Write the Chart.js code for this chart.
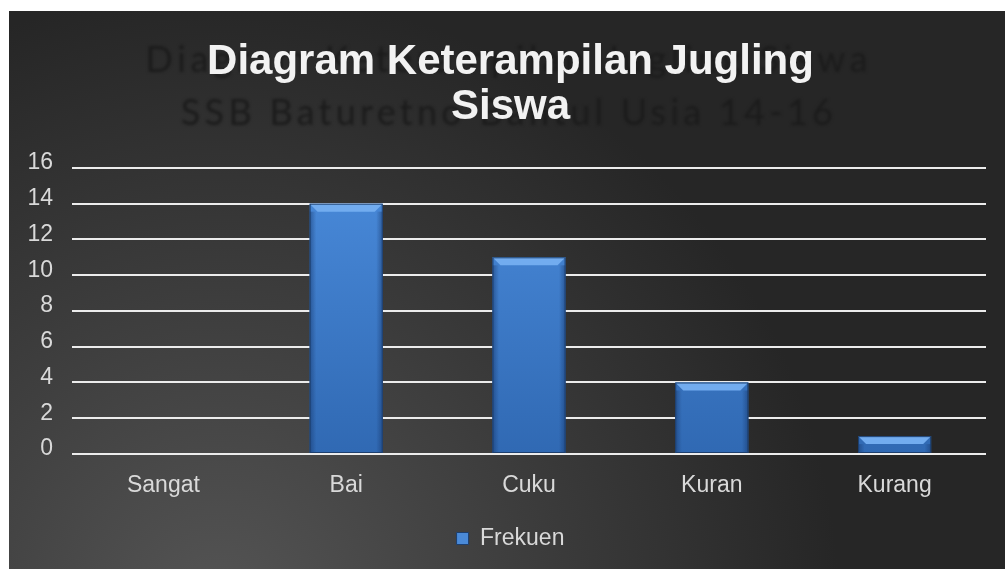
<!DOCTYPE html>
<html>
<head>
<meta charset="utf-8">
<script src="https://cdn.jsdelivr.net/npm/chart.js@4.4.1/dist/chart.umd.min.js"></script>
<style>
  html, body { margin: 0; padding: 0; background: #fff; }
  #wrap { position: absolute; left: 9px; top: 11px; width: 996px; height: 558px; }
</style>
</head>
<body>
<div id="wrap"><canvas id="chart"></canvas></div>
<script>
const categories = ['Sangat', 'Bai', 'Cuku', 'Kuran', 'Kurang'];
const frekuensi = [0, 14, 11, 4, 1];
const seriesName = 'Frekuen';
const titleLines = ['Diagram Keterampilan Jugling', 'Siswa'];
const ghostLines = ['Diagram Keterampilan Jugling Siswa', 'SSB Baturetno Bantul Usia 14-16'];

// dark gradient background + blurred ghost title behind the real one
const backdrop = {
  id: 'backdrop',
  afterLayout(chart) {
    // let the y labels use the left margin (title is centred with a left pad)
    chart.scales.y.left = 0;
  },
  beforeDraw(chart) {
    const { ctx, width, height } = chart;
    ctx.save();
    const g = ctx.createRadialGradient(210, height + 40, 20, 210, height + 40, 620);
    g.addColorStop(0, '#535353');
    g.addColorStop(0.55, '#3a3a3a');
    g.addColorStop(1, '#262626');
    ctx.fillStyle = g;
    ctx.fillRect(0, 0, width, height);

    ctx.filter = 'blur(1.5px)';
    ctx.fillStyle = '#1b1b1b';
    ctx.textAlign = 'center';
    ctx.textBaseline = 'middle';
    ctx.font = '36px Lato';
    const targets = [722, 652];
    const ys = [49, 102];
    ghostLines.forEach((t, i) => {
      ctx.letterSpacing = '0px';
      const w = ctx.measureText(t).width;
      const sp = Math.max(0, (targets[i] - w) / (t.length - 1));
      ctx.letterSpacing = sp.toFixed(2) + 'px';
      ctx.fillText(t, 500, ys[i]);
    });
    ctx.restore();
  }
};

// bevel on the bars, taken from the bar elements themselves
const bevel = {
  id: 'bevel',
  afterDatasetsDraw(chart) {
    const { ctx } = chart;
    const meta = chart.getDatasetMeta(0);
    ctx.save();
    meta.data.forEach(bar => {
      const p = bar.getProps(['x', 'y', 'base', 'width'], true);
      const h = p.base - p.y;
      if (h < 1) return;
      const l = p.x - p.width / 2, r = p.x + p.width / 2;
      const b = Math.min(8, h / 2);
      // top highlight
      ctx.fillStyle = '#72acef';
      ctx.beginPath();
      ctx.moveTo(l, p.y); ctx.lineTo(r, p.y);
      ctx.lineTo(r - b, p.y + b); ctx.lineTo(l + b, p.y + b);
      ctx.closePath(); ctx.fill();
      // side shading
      const sg = ctx.createLinearGradient(l, 0, r, 0);
      sg.addColorStop(0, 'rgba(20,50,100,0.5)');
      sg.addColorStop(0.09, 'rgba(20,50,100,0)');
      sg.addColorStop(0.91, 'rgba(20,50,100,0)');
      sg.addColorStop(1, 'rgba(20,50,100,0.5)');
      ctx.fillStyle = sg;
      ctx.fillRect(l, p.y + b, p.width, h - b);
      ctx.strokeStyle = '#1d3f6e';
      ctx.lineWidth = 1;
      ctx.strokeRect(l + 0.5, p.y + 0.5, p.width - 1, h - 1);
    });
    ctx.restore();
  }
};

new Chart(document.getElementById('chart'), {
  type: 'bar',
  data: {
    labels: categories,
    datasets: [{
      label: seriesName,
      data: frekuensi,
      backgroundColor(c) {
        const area = c.chart.chartArea;
        if (!area) return '#3f7fd0';
        const g = c.chart.ctx.createLinearGradient(0, area.top, 0, area.bottom);
        g.addColorStop(0, '#4a8bdb');
        g.addColorStop(1, '#3069b3');
        return g;
      },
      borderWidth: 0,
      categoryPercentage: 0.8,
      barPercentage: 0.5
    }]
  },
  options: {
    responsive: true,
    maintainAspectRatio: false,
    animation: false,
    layout: { padding: { top: 0, right: 19, bottom: 9, left: 26 } },
    plugins: {
      title: {
        display: true,
        text: titleLines,
        color: '#f2f2f2',
        font: { family: 'Liberation Sans, Arial', size: 42, weight: 'bold', lineHeight: 1.07 },
        padding: { top: 29, bottom: 38 }
      },
      legend: {
        position: 'bottom',
        labels: {
          color: '#d9d9d9',
          font: { family: 'Liberation Sans, Arial', size: 23 },
          boxWidth: 12,
          boxHeight: 12,
          padding: 10,
          generateLabels: () => [{
            text: seriesName,
            fillStyle: '#4a8ad8',
            strokeStyle: '#1d3f6e',
            lineWidth: 1,
            fontColor: '#d9d9d9',
            datasetIndex: 0
          }]
        }
      },
      tooltip: { enabled: false }
    },
    scales: {
      x: {
        grid: { display: false, drawTicks: false },
        border: { display: false },
        ticks: {
          color: '#d9d9d9',
          font: { family: 'Liberation Sans, Arial', size: 23 },
          padding: 18,
          maxRotation: 0,
          autoSkip: false
        },
        afterFit(scale) { scale.height = 63; }
      },
      y: {
        min: 0,
        max: 16,
        ticks: {
          stepSize: 2,
          color: '#d9d9d9',
          font: { family: 'Liberation Sans, Arial', size: 23 },
          padding: 19,
          labelOffset: -5
        },
        grid: { color: '#ececec', lineWidth: 2, drawTicks: false },
        border: { display: false },
        afterFit(scale) { scale.width = 37; }
      }
    }
  },
  plugins: [backdrop, bevel]
});
</script>
</body>
</html>
